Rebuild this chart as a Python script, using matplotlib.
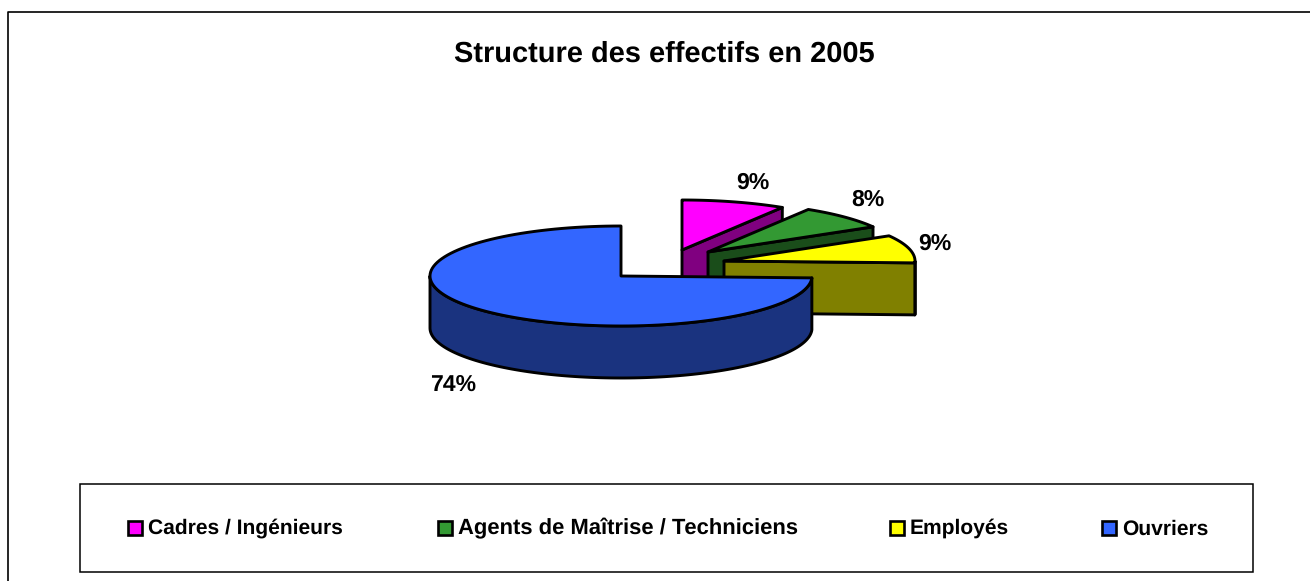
import numpy as np
import matplotlib
matplotlib.use("Agg")
import matplotlib.pyplot as plt
from matplotlib.patches import Rectangle

plt.rcParams['font.family'] = ['Liberation Sans', 'DejaVu Sans']
plt.rcParams['text.hinting'] = 'no_hinting'
plt.rcParams['text.hinting_factor'] = 1

title = "Structure des effectifs en 2005"
categories = ["Cadres / Ingénieurs", "Agents de Maîtrise / Techniciens", "Employés", "Ouvriers"]
values = [8.8, 7.8, 9.0, 74.4]
top_colors = ["#FF00FF", "#339933", "#FFFF00", "#3366FF"]
side_colors = ["#800080", "#1A4D1A", "#808000", "#1A337F"]
apexes = [(682, 250), (708, 252), (724, 261), (621, 276)]
label_xy = [(753, 189), (868, 206), (935, 250), (453, 391)]
legend_swatch_x = [128, 438, 890, 1102]
legend_text_x = [148, 458, 910, 1122]
legend_text_y = [534, 534, 534, 535]
legend_font_sizes = [15.3, 15.6, 15.3, 15.1]

RX, RY, DEPTH = 191, 50, 52
LW = 2.1

fig = plt.figure(figsize=(13.10, 5.81), dpi=100)
ax = fig.add_axes([0, 0, 1, 1])
ax.set_xlim(0, 1310)
ax.set_ylim(581, 0)
ax.axis("off")

# outer chart frame (right and bottom sides fall outside the picture)
ax.plot([8, 8, 1312], [583, 11.5, 11.5], color="black", lw=1.2, zorder=1)

ax.text(664.5, 62, title, ha="center", va="baseline", fontsize=21.1, fontweight="bold", zorder=20)


def arc(cx, cy, a0, a1, n=120):
    t = np.radians(np.linspace(a0, a1, n))
    return cx + RX * np.sin(t), cy - RY * np.cos(t)


angles = 360 * np.cumsum([0] + values) / np.sum(values)
z = 3
for i, (cx, cy) in enumerate(apexes):
    a0, a1 = angles[i], angles[i + 1]
    ex, ey = arc(cx, cy, a0, a1)
    # outer wall: only the part of the rim that faces the viewer
    lo, hi = max(a0, 90), min(a1, 270)
    if hi > lo:
        wx, wy = arc(cx, cy, lo, hi)
        ax.fill(np.r_[wx, wx[::-1]], np.r_[wy, wy[::-1] + DEPTH], fc=side_colors[i],
                ec="black", lw=LW, joinstyle="round", zorder=z)
    # cut wall on the clockwise end, seen for the three exploded slices
    if i < 3:
        ax.fill([cx, ex[-1], ex[-1], cx], [cy, ey[-1], ey[-1] + DEPTH, cy + DEPTH],
                fc=side_colors[i], ec="black", lw=LW, joinstyle="round", zorder=z)
    ax.fill(np.r_[cx, ex], np.r_[cy, ey], fc=top_colors[i], ec="black", lw=LW,
            joinstyle="round", zorder=z + 1)
    z += 2

for v, (lx, ly) in zip(values, label_xy):
    ax.text(lx, ly, f"{round(v)}%", ha="center", va="baseline", fontsize=16.5,
            fontweight="bold", zorder=20)

# legend
ax.add_patch(Rectangle((80, 483.5), 1173, 88, fc="white", ec="black", lw=1.1, zorder=2))
for name, col, sx, tx, ty, fs in zip(categories, top_colors, legend_swatch_x, legend_text_x,
                                     legend_text_y, legend_font_sizes):
    ax.add_patch(Rectangle((sx, 520.5), 14, 14, fc=col, ec="black", lw=1.9, zorder=3))
    ax.text(tx, ty, name, ha="left", va="baseline", fontsize=fs, fontweight="bold", zorder=3)

fig.savefig("out.png", dpi=100)
